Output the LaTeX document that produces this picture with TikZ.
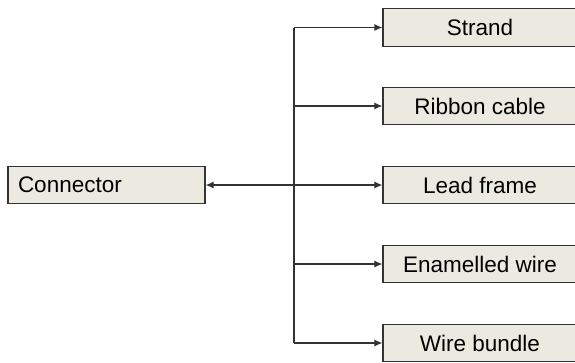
\documentclass[tikz,border=0pt]{standalone}
\usepackage{fontspec}
\setmainfont{Liberation Sans}
\usetikzlibrary{arrows.meta}
\definecolor{boxfill}{HTML}{ECEAE0}
\definecolor{edge}{HTML}{333333}
\tikzset{
  box/.style={draw=edge, fill=boxfill, line width=1.2pt, minimum width=194pt, minimum height=37.5pt, inner sep=0pt, font=\fontsize{22.5}{25}\selectfont},
  leftbox/.style={box, minimum width=197pt, text width=177pt, align=left, inner xsep=10pt},
  link/.style={draw=edge, line width=1.1pt},
  arr/.style={link, -{Latex[length=8pt,width=7pt]}},
}
\begin{document}
\begin{tikzpicture}[x=1pt,y=-1pt]
\useasboundingbox (0,0) rectangle (575,362);
\clip (0,0) rectangle (575,362);
\node[leftbox] (conn) at (106.5,185) {Connector};
\node[box] (strand) at (480,27.5) {Strand};
\node[box] (ribbon) at (480,106) {Ribbon cable};
\node[box] (lead) at (480,185) {Lead frame};
\node[box] (enam) at (480,264) {Enamelled wire};
\node[box] (bundle) at (480,343) {Wire bundle};
\coordinate (trunk) at (294,0);
\draw[link] (trunk |- strand) -- (trunk |- bundle);
\draw[arr] (trunk |- strand) -- (strand.west);
\draw[arr] (trunk |- ribbon) -- (ribbon.west);
\draw[arr] (trunk |- enam) -- (enam.west);
\draw[arr] (trunk |- bundle) -- (bundle.west);
\draw[link, {Latex[length=8pt,width=7pt]}-{Latex[length=8pt,width=7pt]}] (conn.east) -- (lead.west);
\end{tikzpicture}
\end{document}
